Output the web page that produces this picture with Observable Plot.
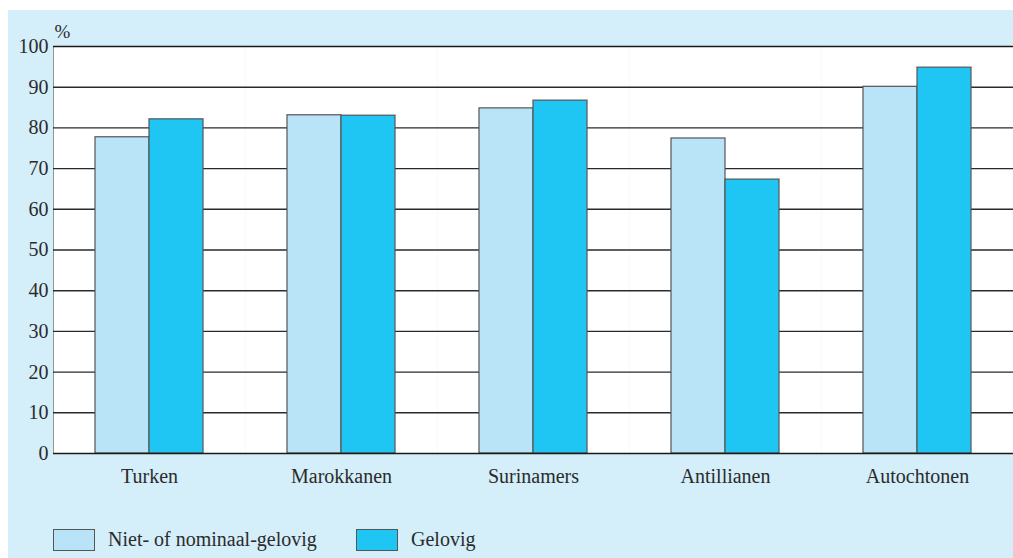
<!DOCTYPE html>
<html>
<head>
<meta charset="utf-8">
<script src="https://cdn.jsdelivr.net/npm/d3@7"></script>
<script src="https://cdn.jsdelivr.net/npm/@observablehq/plot@0.6"></script>
<style>
  html, body { margin: 0; padding: 0; background: #ffffff; width: 1013px; height: 558px; overflow: hidden; }
  #panel { position: absolute; left: 8px; top: 10px; width: 1005px; height: 548px; background: #d4eefa; }
  #chart { position: absolute; left: 0; top: 0; }
  #legend { position: absolute; left: 53px; top: 528px; display: flex; align-items: center;
            font-family: "Liberation Serif", serif; font-size: 20px; color: #2b2b2b; }
  .item { display: flex; align-items: center; }
  .sw { width: 40px; height: 20px; border: 1px solid #555; margin-right: 13px; box-sizing: content-box; }
</style>
</head>
<body>
<div id="panel"></div>
<div id="chart"></div>
<div id="legend"></div>
<script>
const categories = ["Turken", "Marokkanen", "Surinamers", "Antillianen", "Autochtonen"];
const series = ["Niet- of nominaal-gelovig", "Gelovig"];
const nietValues = [77.7, 83.1, 84.8, 77.4, 90.1];
const gelovigValues = [82.1, 83.0, 86.7, 67.3, 94.8];
const yTicks = [0, 10, 20, 30, 40, 50, 60, 70, 80, 90, 100];
const colors = ["#b9e4f8", "#1fc5f3"];

const data = [];
categories.forEach((c, i) => {
  data.push({cat: c, series: series[0], value: nietValues[i]});
  data.push({cat: c, series: series[1], value: gelovigValues[i]});
});

const chart = Plot.plot({
  width: 1013,
  height: 490,
  marginLeft: 53,
  marginRight: 0,
  marginTop: 46,
  marginBottom: 37,
  style: {background: "transparent", fontFamily: "'Liberation Serif', serif", fontSize: "20px", color: "#2b2b2b", overflow: "visible"},
  fx: {domain: categories, padding: 0, label: null, tickSize: 0, tickPadding: 15, axis: "bottom"},
  x: {domain: series, paddingInner: 0, paddingOuter: 0.76, axis: null},
  y: {domain: [0, 100], ticks: yTicks, tickSize: 0, tickPadding: 5, label: null, line: true},
  color: {domain: series, range: colors},
  marks: [
    Plot.frame({fill: "white", stroke: null}),
    Plot.ruleY(yTicks.filter(d => d > 0 && d < 100), {stroke: "#2a2a2a", strokeWidth: 1.4}),
    Plot.barY(data, {fx: "cat", x: "series", y: "value", fill: "series", stroke: "#555", strokeWidth: 1.2}),
    Plot.ruleY([0, 100], {stroke: "#1a1a1a", strokeWidth: 1.6}),
    Plot.text([{cat: categories[0]}], {fx: "cat", frameAnchor: "top-left", text: () => "%", textAnchor: "start", dx: 1, dy: -22, fontSize: 19})
  ]
});
document.getElementById("chart").appendChild(chart);

const legend = document.getElementById("legend");
series.forEach((s, i) => {
  const item = document.createElement("div");
  item.className = "item";
  if (i === 0) item.style.width = "303px";
  const sw = document.createElement("div");
  sw.className = "sw";
  sw.style.background = colors[i];
  const t = document.createElement("span");
  t.textContent = s;
  item.appendChild(sw);
  item.appendChild(t);
  legend.appendChild(item);
});
</script>
</body>
</html>
